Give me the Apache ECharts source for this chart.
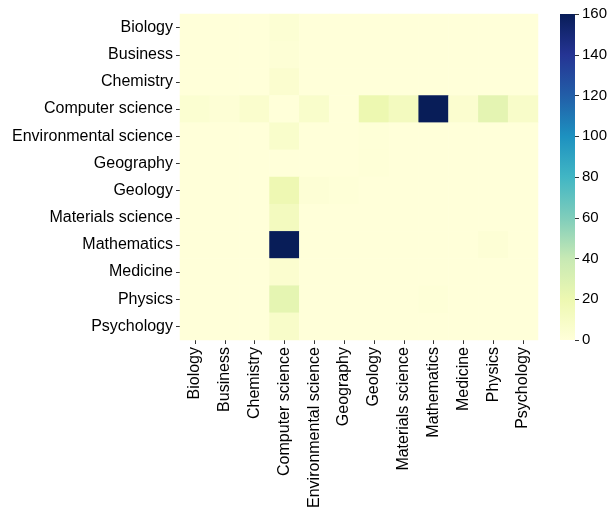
<!DOCTYPE html>
<html>
<head>
<meta charset="utf-8">
<script src="https://cdn.jsdelivr.net/npm/echarts@6/dist/echarts.min.js"></script>
<style>html,body{margin:0;padding:0;background:#fff}#c{width:611px;height:514px}</style>
</head>
<body>
<div id="c"></div>
<script>
const categories = ["Biology","Business","Chemistry","Computer science","Environmental science","Geography","Geology","Materials science","Mathematics","Medicine","Physics","Psychology"];
// rows (y) in category order, columns (x) in category order
const rowBiology      = [0,0,0,3,0,0,0,0,0,0,0,0];
const rowBusiness     = [0,0,0,2,0,0,0,0,0,0,0,0];
const rowChemistry    = [0,0,0,5,0,0,0,0,0,0,0,0];
const rowCompSci      = [4,2,6,0,7,0,20,13,160,5,25,8];
const rowEnvSci       = [0,0,0,7,0,0,1,0,0,0,0,0];
const rowGeography    = [0,0,0,0,0,0,1,0,0,0,0,0];
const rowGeology      = [0,0,0,19,2,1,0,0,0,0,0,0];
const rowMaterials    = [0,0,0,13,0,0,0,0,0,0,0,0];
const rowMathematics  = [0,0,0,160,0,0,0,0,0,0,2,0];
const rowMedicine     = [0,0,0,5,0,0,0,0,0,0,0,0];
const rowPhysics      = [0,0,0,24,0,0,0,0,1,0,0,0];
const rowPsychology   = [0,0,0,8,0,0,0,0,0,0,0,0];
const colorbarTicks = [0,20,40,60,80,100,120,140,160];

const rows = [rowBiology,rowBusiness,rowChemistry,rowCompSci,rowEnvSci,rowGeography,rowGeology,rowMaterials,rowMathematics,rowMedicine,rowPhysics,rowPsychology];
const data = [];
rows.forEach((r, yi) => r.forEach((v, xi) => data.push([xi, yi, v])));

const palette = ['#ffffd9','#edf8b1','#c7e9b4','#7fcdbb','#41b6c4','#1d91c0','#225ea8','#253494','#081d58'];
const font = 'Liberation Sans, Arial, sans-serif';
const chart = echarts.init(document.getElementById('c'), null, {renderer: 'canvas'});
chart.setOption({
  animation: false,
  backgroundColor: '#ffffff',
  grid: [
    {left: 180, right: 73, top: 14, bottom: 174},
    {left: 560, width: 15, top: 14, bottom: 174}
  ],
  xAxis: [
    {
      type: 'category', data: categories, gridIndex: 0,
      axisLine: {show: false},
      axisTick: {show: true, alignWithLabel: true, length: 4, lineStyle: {color: '#333'}},
      axisLabel: {rotate: 90, fontSize: 16, color: '#000', fontFamily: font, margin: 7, interval: 0},
      splitLine: {show: false}
    },
    {type: 'category', data: [''], gridIndex: 1, show: false}
  ],
  yAxis: [
    {
      type: 'category', data: categories, gridIndex: 0, inverse: true,
      axisLine: {show: false},
      axisTick: {show: true, alignWithLabel: true, length: 4, lineStyle: {color: '#333'}},
      axisLabel: {fontSize: 16, color: '#000', fontFamily: font, margin: 7, interval: 0},
      splitLine: {show: false}
    },
    {
      type: 'value', gridIndex: 1, position: 'right', min: 0, max: 160, interval: 20,
      axisLine: {show: false},
      axisTick: {show: true, length: 4, lineStyle: {color: '#333'}},
      axisLabel: {fontSize: 15, color: '#000', fontFamily: font, margin: 7,
        formatter: v => colorbarTicks.includes(v) ? String(v) : ''},
      splitLine: {show: false}
    }
  ],
  visualMap: {
    type: 'continuous', min: 0, max: 160, show: false,
    seriesIndex: 0,
    inRange: {color: palette}
  },
  graphic: [{
    type: 'rect', z: -1,
    shape: {x: 560, y: 14, width: 15, height: 326},
    style: {
      fill: new echarts.graphic.LinearGradient(0, 1, 0, 0,
        palette.map((c, i) => ({offset: i / (palette.length - 1), color: c})))
    }
  }],
  series: [{
    type: 'heatmap', xAxisIndex: 0, yAxisIndex: 0, data: data,
    itemStyle: {borderWidth: 0},
    emphasis: {disabled: true}
  }]
});
</script>
</body>
</html>
